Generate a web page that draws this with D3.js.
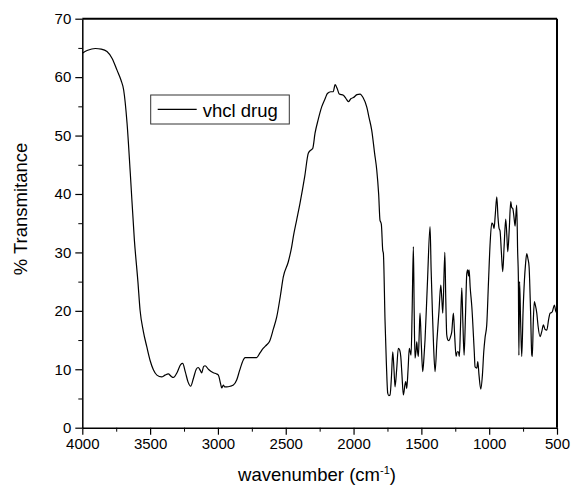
<!DOCTYPE html>
<html>
<head>
<meta charset="utf-8">
<script src="https://cdn.jsdelivr.net/npm/d3@7"></script>
<style>
  body { margin: 0; background: #fff; }
  text { font-family: "Liberation Sans", Arial, sans-serif; fill: #000; }
</style>
</head>
<body>
<div id="chart"></div>
<script>
// IR spectrum
var wavenumber = [4000,3960,3904,3860,3818,3780,3744,3715,3695,3670,3646,3616,3590,3574,3550,3525,3500,3476,3450,3415,3390,3366,3345,3329,3300,3275,3260,3240,3220,3201,3180,3160,3145,3130,3120,3105,3095,3070,3050,3034,3010,2997,2980,2972,2960,2950,2935,2910,2886,2861,2840,2813,2800,2788,2750,2714,2690,2665,2640,2621,2590,2566,2540,2518,2481,2456,2444,2420,2395,2360,2333,2310,2301,2284,2260,2235,2210,2193,2168,2150,2136,2120,2105,2075,2055,2038,2020,2001,1975,1952,1930,1903,1885,1866,1845,1829,1815,1805,1800,1795,1785,1780,1768,1758,1748,1740,1731,1720,1711,1702,1694,1682,1670,1660,1652,1643,1633,1620,1615,1608,1598,1589,1576,1568,1559,1553,1547,1540,1534,1528,1522,1516,1510,1500,1490,1481,1473,1455,1436,1428,1419,1410,1399,1385,1370,1357,1349,1342,1327,1320,1313,1304,1296,1286,1276,1264,1255,1244,1236,1227,1220,1212,1202,1194,1185,1175,1165,1158,1152,1148,1140,1128,1110,1104,1091,1084,1075,1062,1050,1040,1030,1018,1005,993,981,972,964,955,944,935,927,920,910,900,890,878,870,863,852,841,834,826,817,809,803,797,790,785,781,776,768,760,750,740,732,723,715,706,695,686,682,675,667,660,649,640,625,612,600,588,575,562,551,540,534,519,510,500];
var transmittance = [64.1,64.6,64.9,64.8,64.4,63.2,61.2,59.5,57.8,52.1,43.5,32.1,25,20.1,16.5,13.9,11.5,9.9,9.0,8.7,9.0,9.2,8.8,8.6,9.5,10.8,11.0,9.5,7.8,7.1,8.5,10.0,10.3,9.8,9.4,10.5,10.6,10.0,9.6,9.4,9.2,9.0,7.5,6.8,7.3,7.0,7.0,7.1,7.3,8.2,9.8,11.6,12.0,12.0,12.0,12.0,12.8,13.6,14.2,14.7,17.0,19.0,22.5,25.8,28.4,31.0,32.7,35.5,38.4,43.0,47.0,47.6,47.8,50.4,52.8,54.9,56.3,57.2,57.5,57.5,58.7,58.0,57.1,56.9,56.3,55.8,56.3,56.5,57.0,57.1,56.5,54.9,53.0,50.9,47.0,44.1,40.0,35.5,35.2,34.8,30.4,29.8,18.4,11,5.9,5.5,5.6,9,13.0,10,7.0,10,13.6,13.3,12.2,9,5.6,7.5,7.9,6.7,10,13.6,12.4,20,31.0,20,11.9,13,14.7,13,12.2,16,19.6,14,9.6,12,15.0,25,34.4,27,20.1,14,9.6,15,20,24.4,22,19.6,30.0,22,15.9,15.0,14.9,15.5,16.4,19.6,16,12.2,13,13.0,12.2,17,23.9,18,12.4,19,26.4,27.0,26,27.0,24,20.7,13,10.4,10.2,11.3,9,6.6,9,13,15.5,17.6,25,31.6,35.0,34.8,34.1,36.5,39.5,36,34.1,33.7,30,26.7,31,35.7,33,30.1,34,38.7,37.7,37.5,36,34.5,36.5,38.1,30,25.8,12.4,25.0,18,12.2,20,25.3,28,29.8,29,27.6,20,12.5,12.2,18,21.6,21,19.6,17.5,15.6,16.5,17.6,16.8,16.7,18.5,19.6,19.7,19.9,21.0,20,19.6];

var xTicks = [4000,3500,3000,2500,2000,1500,1000,500];
var xMinor = [3750,3250,2750,2250,1750,1250,750];
var yTicks = [0,10,20,30,40,50,60,70];
var yMinor = [5,15,25,35,45,55,65];
var seriesName = "vhcl drug";

var width = 573, height = 490;
var margin = {top: 18.7, right: 16, bottom: 62.3, left: 82.3};

var svg = d3.select("#chart").append("svg")
  .attr("width", width)
  .attr("height", height);

var x = d3.scaleLinear().domain([4000, 500]).range([margin.left, width - margin.right]);
var y = d3.scaleLinear().domain([0, 70]).range([height - margin.bottom, margin.top]);

var data = wavenumber.map(function(d, i) { return {wn: d, t: transmittance[i]}; });

//frame: top and right
svg.append("line")
  .attr("x1", x(4000)).attr("x2", x(500))
  .attr("y1", y(70)).attr("y2", y(70))
  .style("stroke", "#000").style("stroke-width", 2);
svg.append("line")
  .attr("x1", x(500)).attr("x2", x(500))
  .attr("y1", y(70)).attr("y2", y(0))
  .style("stroke", "#000").style("stroke-width", 2);

//minor ticks
svg.append("g")
  .attr("transform", "translate(0," + y(0) + ")")
  .call(d3.axisBottom(x).tickValues(xMinor).tickSize(4).tickFormat(""))
  .call(function(g) { g.select(".domain").remove(); });
svg.append("g")
  .attr("transform", "translate(" + x(4000) + ",0)")
  .call(d3.axisLeft(y).tickValues(yMinor).tickSize(4).tickFormat(""))
  .call(function(g) { g.select(".domain").remove(); });

//major axes
var xAxis = svg.append("g")
  .attr("transform", "translate(0," + y(0) + ")")
  .call(d3.axisBottom(x).tickValues(xTicks).tickSize(7).tickSizeOuter(0).tickPadding(4).tickFormat(d3.format("d")));
var yAxis = svg.append("g")
  .attr("transform", "translate(" + x(4000) + ",0)")
  .call(d3.axisLeft(y).tickValues(yTicks).tickSize(7).tickSizeOuter(0).tickPadding(4));

[xAxis, yAxis].forEach(function(g) {
  g.selectAll("text").style("font-size", "15px").style("font-family", "'Liberation Sans', Arial, sans-serif");
  g.selectAll("line").style("stroke-width", 1.2);
  g.select(".domain").style("stroke-width", 1.5);
});

//spectrum
var line = d3.line()
  .x(function(d) { return x(d.wn); })
  .y(function(d) { return y(d.t); })
  .curve(d3.curveMonotoneX);

svg.append("path")
  .datum(data)
  .attr("d", line)
  .style("fill", "none")
  .style("stroke", "#000")
  .style("stroke-width", 1.2);

//legend
var legend = svg.append("g").attr("transform", "translate(150.7,95)");
legend.append("rect")
  .attr("width", 138.6).attr("height", 29)
  .style("fill", "#fff").style("stroke", "#333").style("stroke-width", 1);
legend.append("line")
  .attr("x1", 7).attr("x2", 46).attr("y1", 14.3).attr("y2", 14.3)
  .style("stroke", "#000").style("stroke-width", 1.2);
legend.append("text")
  .attr("x", 52).attr("y", 21.5)
  .style("font-size", "18.5px")
  .text(seriesName);

//axis titles
var xTitle = svg.append("text")
  .attr("x", 317).attr("y", 481)
  .attr("text-anchor", "middle")
  .style("font-size", "18.5px");
xTitle.append("tspan").text("wavenumber (cm");
xTitle.append("tspan").attr("dy", -7).style("font-size", "11px").text("-1");
xTitle.append("tspan").attr("dy", 7).text(")");

svg.append("text")
  .attr("transform", "translate(27,209) rotate(-90)")
  .attr("text-anchor", "middle")
  .style("font-size", "18.5px")
  .text("% Transmitance");
</script>
</body>
</html>
